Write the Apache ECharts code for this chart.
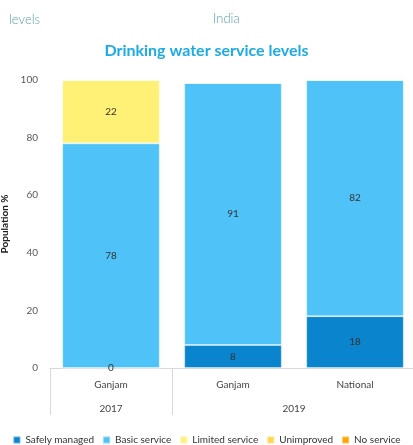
<!DOCTYPE html>
<html>
<head>
<meta charset="utf-8">
<script src="https://cdn.jsdelivr.net/npm/echarts@6/dist/echarts.min.js"></script>
<style>
  html, body { margin: 0; padding: 0; background: #fff; }
  #chart { width: 413px; height: 445px; }
</style>
</head>
<body>
<div id="chart"></div>
<script>
// Categories: place within each survey year
const categories = ['Ganjam', 'Ganjam', 'National'];
// Survey years and how many places each spans
const years = ['2017', '2019'];
const yearSpans = [1, 2];

// Population share (%) per service level
const safelyManaged = [0, 8, 18];
const basicService = [78, 91, 82];
const limitedService = [22, 0, 0];
const unimproved = [0, 0, 0];
const noService = [0, 0, 0];

const yTicks = [0, 20, 40, 60, 80, 100];

const FONT = 'Lato, "Noto Sans", sans-serif';

// Year label positions (middle of each span) and boundaries on the year axis
const yearCenters = [];
const yearBounds = [0];
let acc = 0;
yearSpans.forEach(function (s) {
  yearCenters.push(acc + s / 2);
  acc += s;
  yearBounds.push(acc);
});

function labelled(values, showZero) {
  return values.map(function (v) {
    return { value: v, label: { show: v !== 0 || showZero } };
  });
}

const labelStyle = {
  position: 'inside',
  color: '#333',
  fontSize: 10,
  fontFamily: FONT
};

function series(name, data, color, showZero) {
  return {
    name: name,
    type: 'bar',
    stack: 'total',
    barWidth: '80%',
    xAxisIndex: 0,
    itemStyle: { color: color, borderColor: 'rgba(255,255,255,0.35)', borderWidth: 1 },
    label: labelStyle,
    data: labelled(data, showZero),
    emphasis: { disabled: true }
  };
}

const chart = echarts.init(document.getElementById('chart'));
chart.setOption({
  animation: false,
  title: [
    {
      text: 'levels', left: 4, top: 8,
      textStyle: { color: '#5a9fae', fontSize: 13, fontWeight: 300, fontFamily: FONT }
    },
    {
      text: 'India', left: 208, top: 7,
      textStyle: { color: '#5a9fae', fontSize: 13, fontWeight: 300, fontFamily: FONT }
    },
    {
      text: 'Drinking water service levels', left: 'center', top: 38,
      textStyle: { color: '#1CABE2', fontSize: 16, fontWeight: 'bold', fontFamily: FONT }
    }
  ],
  legend: {
    top: 430,
    left: 'center',
    itemWidth: 7,
    itemHeight: 7,
    itemGap: 8,
    icon: 'rect',
    textStyle: { color: '#333', fontSize: 10, fontFamily: FONT },
    data: ['Safely managed', 'Basic service', 'Limited service', 'Unimproved', 'No service']
  },
  grid: { left: 50, top: 80, width: 366, height: 288, outerBoundsMode: 'none' },
  xAxis: [
    {
      type: 'category',
      data: categories,
      axisLine: { show: true, lineStyle: { color: '#d9d9d9' } },
      axisTick: { show: false },
      axisLabel: { color: '#444', fontSize: 10, fontFamily: FONT, margin: 12 }
    },
    {
      type: 'value',
      position: 'bottom',
      min: 0,
      max: categories.length,
      splitLine: { show: false },
      axisLine: { show: false },
      axisTick: {
        show: true, length: 47, customValues: yearBounds,
        lineStyle: { color: '#d9d9d9' }
      },
      axisLabel: {
        show: true, customValues: yearCenters, margin: 36,
        color: '#444', fontSize: 10, fontFamily: FONT,
        formatter: function (v) {
          const i = yearCenters.indexOf(v);
          return i >= 0 ? years[i] : '';
        }
      }
    }
  ],
  yAxis: {
    type: 'value',
    min: yTicks[0],
    max: yTicks[yTicks.length - 1],
    interval: 20,
    name: 'Population %',
    nameLocation: 'middle',
    nameGap: 32,
    nameTextStyle: { color: '#222', fontSize: 10, fontWeight: 'bold', fontFamily: FONT },
    splitLine: { show: false },
    axisLine: { show: false },
    axisTick: { show: false },
    axisLabel: { color: '#595959', fontSize: 10, fontFamily: FONT, margin: 12 }
  },
  series: [
    series('Safely managed', safelyManaged, '#0a84cc', true),
    series('Basic service', basicService, '#4fc3f7', false),
    series('Limited service', limitedService, '#fff176', false),
    series('Unimproved', unimproved, '#ffd54f', false),
    series('No service', noService, '#ffa500', false)
  ]
});
</script>
</body>
</html>
